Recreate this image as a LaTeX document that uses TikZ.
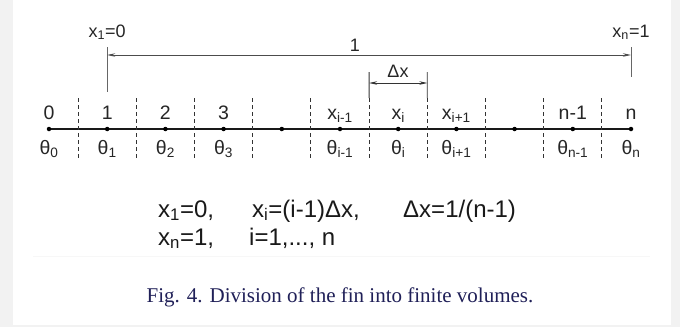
\documentclass[tikz,border=0pt]{standalone}
\usepackage{fontspec}
\setmainfont{Liberation Sans}
\newfontfamily\capfont{Liberation Serif}
\usetikzlibrary{arrows.meta, positioning}
\definecolor{capnavy}{RGB}{32,32,88}
\tikzset{
  fin_line/.style={line width=1.3pt, black!90},
  grid_dot/.style={circle, fill=black, inner sep=0pt, minimum size=4.5pt},
  cell_bound/.style={line width=1.1pt, dash pattern=on 3.5pt off 3.5pt, black!80},
  dim_line/.style={line width=0.8pt, black!60},
  dim_arrow/.style={{Stealth[length=8pt,width=3.5pt]}-{Stealth[length=8pt,width=3.5pt]}, line width=0.8pt, black!70},
  row_label/.style={font=\fontsize{19.5}{21}\selectfont, text=black!85, inner sep=0pt},
  top_label/.style={font=\fontsize{18}{20}\selectfont, text=black!85, inner sep=0pt},
  formula_text/.style={font=\fontsize{24}{26}\selectfont, text=black!90, inner sep=0pt, anchor=base west},
  caption_text/.style={font=\capfont\fontsize{21}{24}\selectfont, text=capnavy, inner sep=0pt}
}

\begin{document}
\begin{tikzpicture}[x=1pt, y=-1pt]
  \useasboundingbox (0,0) rectangle (680,327);

  % Frame
  \fill[black!5] (0,0) rectangle (680,327);
  \fill[white] (13,0) rectangle (671,325);
  \draw[black!3, line width=1pt] (33,256) -- (650,256);

  % Grid points
  \foreach \k in {0,...,10} {
    \coordinate (p\k) at ({49+58.2*\k},129);
  }
  \draw[fin_line] (p0) -- (p10);
  \foreach \k in {0,...,10} {
    \node[grid_dot] (d\k) at (p\k) {};
  }

  % Cell boundaries
  \foreach \k in {0,...,9} {
    \coordinate (bt\k) at ({78.1+58.2*\k},98);
    \coordinate (bb\k) at ({78.1+58.2*\k},161);
    \draw[cell_bound] (bt\k) -- (bb\k);
  }

  % Node numbers and temperatures
  \foreach \k/\txt in {0/0, 1/1, 2/2, 3/3, 5/x\textsubscript{i-1}, 6/x\textsubscript{i}, 7/x\textsubscript{i+1}, 9/n-1, 10/n} {
    \node[row_label, anchor=base] (n\k) at ([yshift=10pt]p\k) {\txt};
  }
  \foreach \k/\txt in {0/0, 1/1, 2/2, 3/3, 5/i-1, 6/i, 7/i+1, 9/n-1, 10/n} {
    \node[row_label, anchor=base] (t\k) at ([yshift=-25pt]p\k) {θ\textsubscript{\txt}};
  }

  % Length of the fin
  \coordinate (l1top) at (107.2,47);
  \coordinate (l1bot) at (107.2,92);
  \coordinate (lntop) at (631,47);
  \coordinate (lnbot) at (631,77);
  \coordinate (la1) at (107.2,55);
  \coordinate (lan) at (631,55);
  \draw[dim_line] (l1top) -- (l1bot);
  \draw[dim_line] (lntop) -- (lnbot);
  \draw[dim_arrow] (la1) -- (lan);
  \node[top_label, anchor=base] (len) at (355,51) {1};
  \node[top_label, anchor=base] (x1lab) at ([yshift=10pt]l1top) {x\textsubscript{1}=0};
  \node[top_label, anchor=base] (xnlab) at ([yshift=10pt]lntop) {x\textsubscript{n}=1};

  % Cell width
  \coordinate (dx1) at (369.1,72);
  \coordinate (dx2) at (427.3,72);
  \coordinate (da1) at (369.1,83);
  \coordinate (da2) at (427.3,83);
  \draw[dim_line, black!80] (dx1) -- (bt5);
  \draw[dim_line, black!80] (dx2) -- (bt6);
  \draw[dim_arrow, black!80] (da1) -- (da2);
  \node[top_label, anchor=base] (dxlab) at (398,77) {Δx};

  % Relations
  \node[formula_text] (f1) at (158,217) {x\textsubscript{1}=0,};
  \node[formula_text] (f2) at (252,217) {x\textsubscript{i}=(i-1)Δx,};
  \node[formula_text] (f3) at (403,217) {Δx=1/(n-1)};
  \node[formula_text] (f4) at (158,245) {x\textsubscript{n}=1,};
  \node[formula_text] (f5) at (249,245) {i=1,..., n};

  % Caption
  \node[caption_text] (cap) at (340,297) {Fig. 4. Division of the fin into finite volumes.};
\end{tikzpicture}
\end{document}
